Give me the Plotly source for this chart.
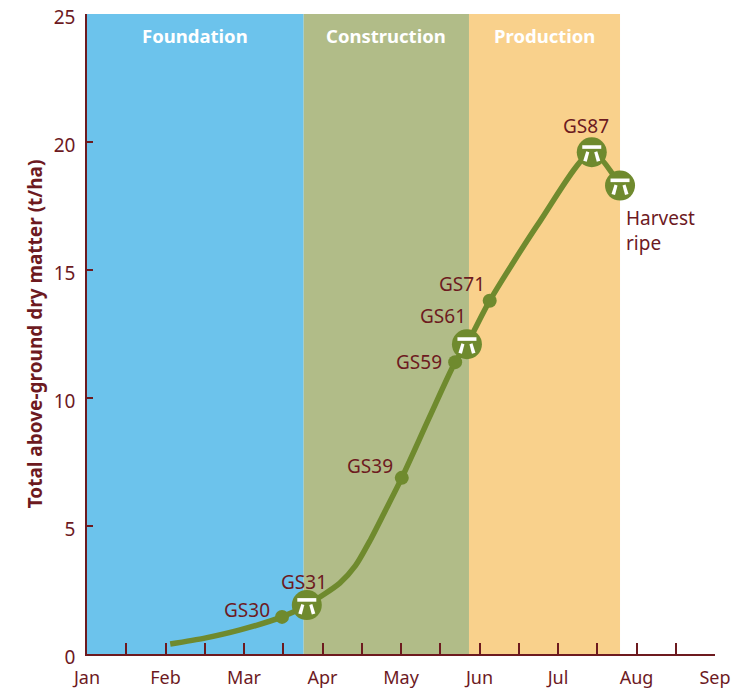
import plotly.graph_objects as go

DARK = "#6d1a1f"
GREEN = "#6f8a2e"

month_labels = ["Jan", "Feb", "Mar", "Apr", "May", "Jun", "Jul", "Aug", "Sep"]
month_positions = [0, 1, 2, 3, 4, 5, 6, 7, 8]
minor_ticks = [0.5, 1.5, 2.5, 3.5, 4.5, 5.5, 6.5, 7.5]
y_ticks = [0, 5, 10, 15, 20, 25]

phase_names = ["Foundation", "Construction", "Production"]
phase_start = [0.0, 2.76, 4.866]
phase_end = [2.76, 4.866, 6.79]
phase_colors = ["#6cc3ec", "#b1bc88", "#f9d18c"]

curve_x = [1.06, 1.50, 1.95, 2.484, 2.80, 3.22, 3.42, 3.60, 3.80, 4.01, 4.37, 4.69, 4.84, 5.13, 5.77, 6.43, 6.79]
curve_y = [0.39, 0.62, 0.94, 1.45, 1.91, 2.77, 3.45, 4.40, 5.6, 6.88, 9.3, 11.4, 12.1, 13.8, 16.9, 19.6, 18.3]

small_x = [2.484, 4.01, 4.69, 5.13]
small_y = [1.45, 6.88, 11.4, 13.8]
small_labels = ["GS30", "GS39", "GS59", "GS71"]
small_shift_x = [-35, -32, -36, -28]
small_shift_y = [7, 12, 0, 17]

big_x = [2.80, 4.84, 6.43, 6.79]
big_y = [1.91, 12.1, 19.6, 18.3]
big_labels = ["GS31", "GS61", "GS87", ""]
big_shift_x = [-3, -24, -6, 0]
big_shift_y = [23, 28, 26, 0]

ICON_PATHS = [
    "M -9.5 7 L 9.5 7 L 9.5 3.4 L -9.5 3.4 Z",
    "M -5.5 1 L -2.5 0 L -5 -9.5 L -8.5 -8.5 Z",
    "M 5.5 1 L 2.5 0 L 5 -9.5 L 8.5 -8.5 Z",
]

fig = go.Figure()

fig.add_trace(go.Scatter(x=curve_x, y=curve_y, mode="lines",
                         line=dict(color=GREEN, width=5.5, shape="spline", smoothing=0.7),
                         hoverinfo="skip"))
fig.add_trace(go.Scatter(x=small_x, y=small_y, mode="markers",
                         marker=dict(color=GREEN, size=14), hoverinfo="skip"))
fig.add_trace(go.Scatter(x=big_x, y=big_y, mode="markers",
                         marker=dict(color=GREEN, size=30), hoverinfo="skip"))

shapes = []
annotations = []
for s, e, c, n in zip(phase_start, phase_end, phase_colors, phase_names):
    shapes.append(dict(type="rect", xref="x", yref="y", x0=s, x1=e, y0=0, y1=25,
                       fillcolor=c, line=dict(width=0), layer="below"))
    annotations.append(dict(x=(s + e) / 2, y=25, xref="x", yref="y", text=f"<b>{n}</b>",
                            showarrow=False, yanchor="top", yshift=-7,
                            font=dict(color="white", size=18.5, family="Noto Sans")))

for bx, by in zip(big_x, big_y):
    for p in ICON_PATHS:
        shapes.append(dict(type="path", xref="x", yref="y", xsizemode="pixel", ysizemode="pixel",
                           xanchor=bx, yanchor=by, path=p, fillcolor="white",
                           line=dict(width=0), layer="above"))

label_font = dict(color=DARK, size=19, family="Noto Sans")
for xs, ys, ls, sx, sy in [(small_x, small_y, small_labels, small_shift_x, small_shift_y),
                           (big_x, big_y, big_labels, big_shift_x, big_shift_y)]:
    for x, y, l, dx, dy in zip(xs, ys, ls, sx, sy):
        if l:
            annotations.append(dict(x=x, y=y, xref="x", yref="y", text=l, showarrow=False,
                                    xshift=dx, yshift=dy, font=label_font))

annotations.append(dict(x=big_x[3], y=big_y[3], xref="x", yref="y", text="Harvest<br>ripe",
                        showarrow=False, xanchor="left", yanchor="top", align="left",
                        xshift=4, yshift=-17, font=label_font))

fig.update_layout(
    width=740, height=690, autosize=False, showlegend=False,
    margin=dict(l=87, r=25, t=14, b=36),
    paper_bgcolor="white", plot_bgcolor="white",
    shapes=shapes, annotations=annotations,
    font=dict(family="Noto Sans", color=DARK),
    xaxis=dict(range=[0, 8], tickmode="array", tickvals=month_positions, ticktext=month_labels,
               ticks="inside", ticklen=11, tickwidth=1.5, tickcolor=DARK, automargin=False,
               ticklabelstandoff=7,
               minor=dict(tickmode="array", tickvals=minor_ticks, ticks="inside", ticklen=11,
                          tickwidth=1.5, tickcolor=DARK, showgrid=False),
               showline=True, linecolor=DARK, linewidth=1.5, showgrid=False, zeroline=False,
               tickfont=dict(size=18, color=DARK), fixedrange=True),
    yaxis=dict(range=[0, 25], tickmode="array", tickvals=y_ticks, automargin=False,
               ticks="inside", ticklen=6, tickwidth=1.5, tickcolor=DARK,
               ticklabelstandoff=6, ticklabelshift=3,
               showline=True, linecolor=DARK, linewidth=1.5, showgrid=False, zeroline=False,
               tickfont=dict(size=19, color=DARK), fixedrange=True,
               title=dict(text="<b>Total above-ground dry matter (t/ha)</b>", standoff=6,
                          font=dict(size=19, color=DARK))),
)

fig.write_html("out.html", post_script="document.body.style.margin='0';",
               config={"displayModeBar": False})
